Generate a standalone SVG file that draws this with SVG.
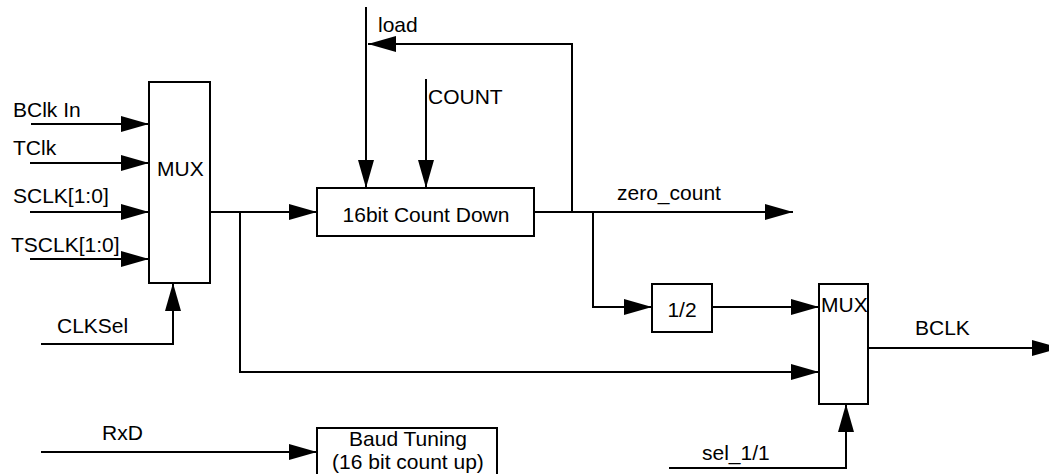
<svg xmlns="http://www.w3.org/2000/svg" width="1049" height="474" viewBox="0 0 1049 474">
<style>
.box{fill:#fff;stroke:#000;stroke-width:2}
.w{fill:none;stroke:#000;stroke-width:2;marker-end:url(#ah)}
text{font-family:"Liberation Sans",Arial,sans-serif;font-size:21px;fill:#000}
.c{text-anchor:middle}
</style>
<defs>
<marker id="ah" markerUnits="userSpaceOnUse" markerWidth="28" markerHeight="16" refX="28" refY="8" orient="auto" overflow="visible">
<path d="M0,0 L28,8 L0,16 z" fill="#000"/>
</marker>
</defs>
<rect width="1049" height="474" fill="#fff"/>
<g id="connectors">
<path class="w" d="M31 124 H149"/>
<path class="w" d="M30 163 H149"/>
<path class="w" d="M30 212 H149"/>
<path class="w" d="M30 259 H149"/>
<path class="w" d="M41 344 H173 V283"/>
<path class="w" d="M210 212 H317"/>
<path class="w" d="M240 212 V372 H819"/>
<path class="w" d="M366 7 V188"/>
<path class="w" d="M572 212 V44 H368"/>
<path class="w" d="M426 79 V188"/>
<path class="w" d="M534 212 H793"/>
<path class="w" d="M593 212 V307 H652"/>
<path class="w" d="M712 307 H819"/>
<path class="w" d="M868 348 H1060"/>
<path class="w" d="M669 468 H846 V404"/>
<path class="w" d="M41 452 H317"/>
</g>
<g id="labels">
<text x="13" y="117">BClk In</text>
<text x="13" y="155">TClk</text>
<text x="13" y="203">SCLK[1:0]</text>
<text x="11" y="252">TSCLK[1:0]</text>
<text x="57" y="333">CLKSel</text>
<text x="378" y="32">load</text>
<text x="428" y="104">COUNT</text>
<text x="617" y="200">zero_count</text>
<text x="915" y="335">BCLK</text>
<text x="702" y="460">sel_1/1</text>
<text x="102" y="440">RxD</text>
</g>
<g id="mux1">
<rect class="box" x="149" y="82" width="61" height="201"/>
<text x="157" y="176">MUX</text>
</g>
<g id="countdown">
<rect class="box" x="317" y="188" width="217" height="48"/>
<text class="c" x="426" y="222">16bit Count Down</text>
</g>
<g id="half">
<rect class="box" x="652" y="284" width="60" height="48"/>
<text class="c" x="682" y="317">1/2</text>
</g>
<g id="mux2">
<rect class="box" x="819" y="284" width="49" height="120"/>
<text x="821" y="312">MUX</text>
</g>
<g id="baud">
<rect class="box" x="317" y="428" width="180" height="60"/>
<text class="c" x="408" y="446">Baud Tuning</text>
<text class="c" x="408" y="469">(16 bit count up)</text>
</g>
</svg>
